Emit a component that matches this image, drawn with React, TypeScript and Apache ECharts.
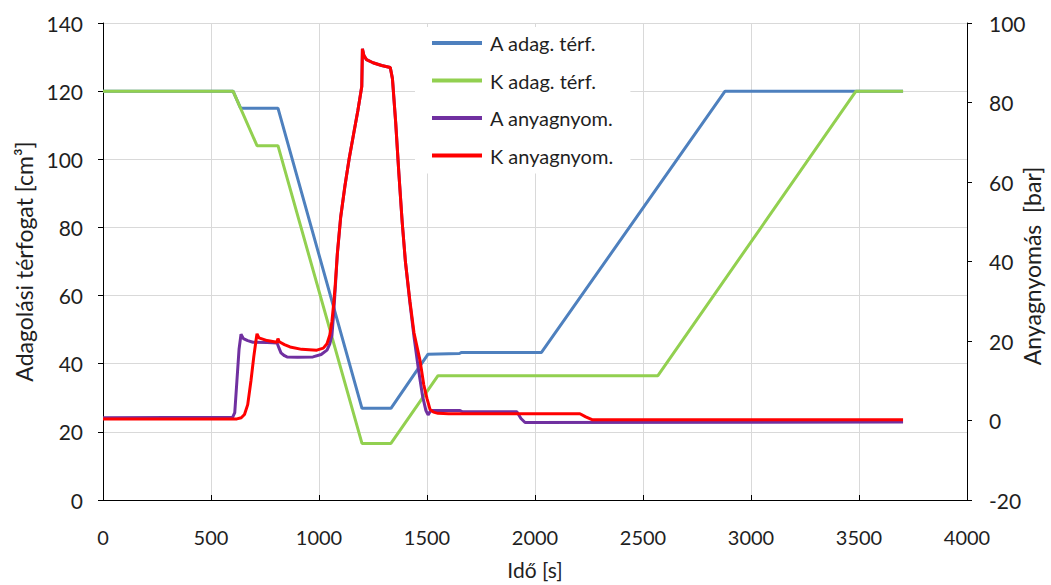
import React, { useEffect, useRef } from "react";
import * as echarts from "echarts";

// Time axis ticks (s)
const xTicks = [0, 500, 1000, 1500, 2000, 2500, 3000, 3500, 4000];

// Series names
const seriesNames = ["A adag. térf.", "K adag. térf.", "A anyagnyom.", "K anyagnyom."];

// Axis titles
const xTitle = "Idő [s]";
const leftTitle = "Adagolási térfogat [cm³]";
const rightTitle = "Anyagnyomás  [bar]";

// A adag. térf. [cm3] — [time s, volume]
const aVolume: [number, number][] = [
  [0, 120], [602, 120], [637, 115], [810, 115], [1199, 26.9], [1333, 26.9],
  [1505, 42.8], [1650, 43], [1660, 43.3], [2030, 43.3], [2880, 120], [3704, 120],
];

// K adag. térf. [cm3]
const kVolume: [number, number][] = [
  [0, 120], [602, 120], [713, 104], [810, 104], [1199, 16.6], [1333, 16.6],
  [1551, 36.5], [2569, 36.5], [3486, 120], [3704, 120],
];

// A anyagnyom. [bar]
const aPressure: [number, number][] = [
  [0, 0.7], [600, 0.8], [610, 2], [620, 10], [630, 18], [639, 21.7], [650, 20.6],
  [670, 20.1], [694, 19.7], [760, 19.6], [806, 19.5], [815, 18.2], [824, 17], [840, 16.3],
  [852, 16], [900, 15.9], [972, 16], [1010, 16.6], [1037, 17.7], [1050, 19.3], [1060, 21.5],
  [1068, 27], [1075, 33], [1085, 42], [1100, 51], [1120, 59], [1140, 66], [1160, 72],
  [1180, 78], [1195, 83], [1198, 84], [1201, 93.5], [1208, 91.8], [1220, 90.8], [1250, 90],
  [1290, 89.3], [1330, 88.8], [1340, 86], [1355, 75], [1370, 62], [1385, 50], [1400, 40],
  [1420, 30], [1440, 21], [1460, 13], [1480, 6], [1495, 2.5], [1505, 1.4], [1515, 2.3],
  [1523, 2.5], [1653, 2.5], [1665, 2.2], [1916, 2.2], [1935, 0.5], [1954, -0.5], [3704, -0.4],
];

// K anyagnyom. [bar]
const kPressure: [number, number][] = [
  [0, 0.4], [620, 0.4], [640, 0.7], [655, 1.5], [670, 4], [685, 10], [698, 16], [708, 20],
  [713, 21.8], [722, 20.8], [760, 20.1], [805, 19.7], [810, 20.6], [816, 19.8], [840, 19.1],
  [866, 18.5], [920, 17.9], [990, 17.7], [1020, 18.2], [1037, 19.3], [1050, 21.5],
  [1060, 25], [1069, 30], [1075, 34], [1085, 42], [1100, 51], [1120, 59], [1140, 66],
  [1160, 72], [1180, 78], [1195, 83], [1198, 84], [1201, 93.5], [1208, 91.8], [1220, 90.8],
  [1250, 90], [1290, 89.3], [1330, 88.8], [1340, 86], [1355, 75], [1370, 62], [1385, 50],
  [1400, 40], [1421, 30], [1440, 22], [1468, 15], [1485, 9], [1500, 5.5], [1514, 2.8],
  [1530, 2.1], [1551, 1.8], [1600, 1.7], [2208, 1.7], [2235, 0.9], [2264, 0.2], [3704, 0.2],
];

const colors = ["#4E80BE", "#92D050", "#7030A0", "#FF0000"];

const FONT = "Lato";
const TEXT = "#1f1f1f";

export default function App() {
  const ref = useRef<HTMLDivElement>(null);

  useEffect(() => {
    document.body.style.margin = "0";
    if (!ref.current) return;
    const chart = echarts.init(ref.current, null, { renderer: "svg", width: 1051, height: 585 });
    const seriesData = [aVolume, kVolume, aPressure, kPressure];
    const plain = (v: number) => String(v);
    chart.setOption({
      animation: false,
      backgroundColor: "#ffffff",
      textStyle: { fontFamily: FONT },
      grid: { left: 103, right: 84, top: 23, bottom: 85, containLabel: false, outerBoundsMode: "none" },
      graphic: [
        {
          type: "text",
          x: 1032,
          y: 266,
          rotation: Math.PI / 2,
          style: {
            text: rightTitle,
            fontFamily: FONT,
            fontSize: 23,
            fill: TEXT,
            align: "center",
            verticalAlign: "middle",
          },
        },
      ],
      legend: {
        data: seriesNames,
        orient: "vertical",
        left: 415,
        top: 27,
        padding: [6, 17, 8, 17],
        backgroundColor: "#ffffff",
        icon: "rect",
        itemWidth: 50,
        itemHeight: 4,
        itemGap: 17.5,
        itemStyle: { borderWidth: 0 },
        textStyle: { fontFamily: FONT, fontSize: 20, lineHeight: 20, color: TEXT, padding: [0, 0, 0, 3] },
      },
      xAxis: {
        type: "value",
        min: xTicks[0],
        max: xTicks[xTicks.length - 1],
        interval: 500,
        name: xTitle,
        nameLocation: "middle",
        nameGap: 59,
        nameTextStyle: { fontFamily: FONT, fontSize: 21, color: TEXT },
        axisLine: { show: true, lineStyle: { color: "#000000", width: 1 } },
        axisTick: { show: true, inside: true, length: 5, lineStyle: { color: "#000000" } },
        axisLabel: { fontFamily: FONT, fontSize: 20, color: TEXT, margin: 27, formatter: plain },
        splitLine: { show: true, lineStyle: { color: "#d9d9d9", width: 1 } },
      },
      yAxis: [
        {
          type: "value",
          min: 0,
          max: 140,
          interval: 20,
          position: "left",
          name: leftTitle,
          nameLocation: "middle",
          nameGap: 62,
          nameTextStyle: { fontFamily: FONT, fontSize: 23, color: TEXT },
          axisLine: { show: true, lineStyle: { color: "#000000", width: 1 } },
          axisTick: { show: true, inside: false, length: 5, lineStyle: { color: "#000000" } },
          axisLabel: { fontFamily: FONT, fontSize: 21, color: TEXT, margin: 20, formatter: plain },
          splitLine: { show: true, lineStyle: { color: "#d9d9d9", width: 1 } },
        },
        {
          type: "value",
          min: -20,
          max: 100,
          interval: 20,
          position: "right",
          axisLine: { show: true, lineStyle: { color: "#000000", width: 1 } },
          axisTick: { show: true, inside: false, length: 5, lineStyle: { color: "#000000" } },
          axisLabel: { fontFamily: FONT, fontSize: 21, color: TEXT, margin: 22, formatter: plain },
          splitLine: { show: false },
        },
      ],
      series: seriesNames.map((name, i) => ({
        name,
        type: "line",
        yAxisIndex: i < 2 ? 0 : 1,
        data: seriesData[i],
        showSymbol: false,
        symbol: "none",
        smooth: false,
        color: colors[i],
        lineStyle: { color: colors[i], width: 3 },
        itemStyle: { color: colors[i] },
        z: 2 + i,
      })),
    });
    return () => chart.dispose();
  }, []);

  return <div ref={ref} style={{ width: 1051, height: 585 }} />;
}
